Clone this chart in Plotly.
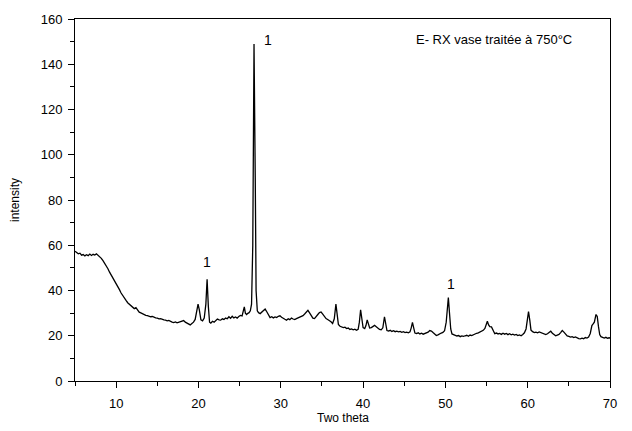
import plotly.graph_objects as go

# XRD pattern (two theta, intensity)
two_theta = [
    5.0, 5.2, 5.4, 5.6, 5.8, 6.0, 6.2, 6.4, 6.6, 6.8, 7.0, 7.2, 7.4, 7.6, 7.8, 8.0, 8.2, 8.4,
    8.6, 8.8, 9.0, 9.2, 9.4, 9.6, 9.8, 10.0, 10.2, 10.4, 10.6, 10.8, 11.0, 11.2, 11.4, 11.6,
    11.8, 12.0, 12.2, 12.4, 12.6, 12.8, 13.0, 13.2, 13.4, 13.6, 13.8, 14.0, 14.2, 14.4, 14.6,
    14.8, 15.0, 15.2, 15.4, 15.6, 15.8, 16.0, 16.2, 16.4, 16.6, 16.8, 17.0, 17.2, 17.4, 17.6,
    17.8, 18.0, 18.2, 18.4, 18.6, 18.8, 19.0, 19.2, 19.4, 19.6, 19.8, 19.95, 20.1, 20.3, 20.5,
    20.7, 20.9, 21.05, 21.2, 21.35, 21.5, 21.7, 21.9, 22.1, 22.3, 22.5, 22.7, 22.9, 23.1, 23.3,
    23.5, 23.7, 23.9, 24.1, 24.3, 24.5, 24.7, 24.9, 25.1, 25.3, 25.45, 25.57, 25.7, 25.85, 26.0,
    26.15, 26.3, 26.45, 26.6, 26.75, 26.9, 27.0, 27.15, 27.3, 27.5, 27.7, 27.9, 28.1, 28.3,
    28.5, 28.7, 28.9, 29.1, 29.3, 29.5, 29.7, 29.9, 30.1, 30.3, 30.5, 30.7, 30.9, 31.1, 31.3,
    31.5, 31.7, 31.9, 32.1, 32.3, 32.5, 32.7, 32.9, 33.1, 33.3, 33.5, 33.7, 33.9, 34.1, 34.3,
    34.5, 34.7, 34.9, 35.1, 35.3, 35.5, 35.7, 35.9, 36.1, 36.3, 36.5, 36.7, 36.85, 37.0, 37.2,
    37.4, 37.6, 37.8, 38.0, 38.2, 38.4, 38.6, 38.8, 39.0, 39.2, 39.4, 39.55, 39.7, 39.85, 40.0,
    40.2, 40.35, 40.5, 40.65, 40.8, 41.0, 41.2, 41.4, 41.6, 41.8, 42.0, 42.2, 42.4, 42.6, 42.75,
    42.9, 43.1, 43.3, 43.5, 43.7, 43.9, 44.1, 44.3, 44.5, 44.7, 44.9, 45.1, 45.3, 45.5, 45.7,
    45.85, 46.0, 46.15, 46.3, 46.5, 46.7, 46.9, 47.1, 47.3, 47.5, 47.7, 47.9, 48.1, 48.3, 48.5,
    48.7, 48.9, 49.1, 49.3, 49.5, 49.7, 49.9, 50.1, 50.25, 50.36, 50.5, 50.65, 50.8, 51.0, 51.2,
    51.4, 51.6, 51.8, 52.0, 52.2, 52.4, 52.6, 52.8, 53.0, 53.2, 53.4, 53.6, 53.8, 54.0, 54.2,
    54.4, 54.6, 54.8, 55.0, 55.1, 55.25, 55.4, 55.6, 55.8, 56.0, 56.2, 56.4, 56.6, 56.8, 57.0,
    57.2, 57.4, 57.6, 57.8, 58.0, 58.2, 58.4, 58.6, 58.8, 59.0, 59.2, 59.4, 59.6, 59.8, 59.95,
    60.1, 60.25, 60.4, 60.6, 60.8, 61.0, 61.2, 61.4, 61.6, 61.8, 62.0, 62.2, 62.4, 62.6, 62.8,
    63.0, 63.2, 63.4, 63.6, 63.8, 64.0, 64.2, 64.4, 64.6, 64.8, 65.0, 65.2, 65.4, 65.6, 65.8,
    66.0, 66.2, 66.4, 66.6, 66.8, 67.0, 67.2, 67.4, 67.6, 67.8, 67.95, 68.1, 68.3, 68.45, 68.6,
    68.75, 68.9, 69.1, 69.3, 69.5, 69.7, 69.9, 70.0,
]
intensity = [
    57.4, 56.8, 56.2, 56.5, 55.6, 55.9, 55.3, 55.8, 55.4, 56.1, 55.5, 56.0, 55.7, 56.2, 55.6, 55.0, 54.2, 53.2,
    52.1, 50.8, 49.6, 48.1, 46.9, 45.6, 44.5, 43.1, 41.6, 40.4, 38.9, 37.6, 36.4, 35.6, 34.6, 33.9,
    33.1, 32.6, 32.0, 32.4, 31.1, 30.4, 30.1, 29.7, 29.5, 29.0, 28.9, 28.6, 28.4, 28.5, 28.0,
    27.9, 27.8, 27.5, 27.6, 27.2, 27.0, 26.9, 26.6, 26.8, 26.2, 26.0, 25.8, 26.1, 25.7, 25.9,
    26.3, 26.2, 26.7, 26.0, 25.5, 25.0, 24.8, 25.4, 26.0, 27.2, 31.0, 34.0, 31.5, 27.0, 26.6,
    27.8, 34.0, 45.0, 33.0, 26.0, 25.6, 26.4, 26.0, 26.8, 27.4, 27.0, 26.9, 27.5, 27.2, 27.8,
    27.5, 28.4, 27.7, 28.6, 27.9, 28.3, 27.8, 28.5, 29.0, 28.8, 31.0, 32.8, 30.0, 29.4, 29.9,
    30.2, 31.0, 34.0, 60.0, 149.0, 90.0, 40.0, 31.0, 30.2, 29.8, 30.4, 30.9, 31.8, 30.6,
    29.0, 28.0, 28.4, 27.9, 28.3, 28.1, 28.6, 28.8, 28.2, 27.6, 27.3, 26.9, 27.5, 27.1, 27.8,
    27.4, 27.2, 27.6, 27.9, 28.1, 28.4, 28.9, 29.6, 30.4, 31.2, 30.1, 28.9, 27.8, 27.6, 28.7,
    29.4, 30.2, 30.5, 29.6, 28.4, 27.6, 27.2, 26.8, 26.2, 25.4, 27.5, 34.0, 30.0, 25.0, 24.2,
    23.9, 23.6, 23.8, 23.2, 23.4, 22.8, 23.0, 22.6, 22.9, 22.4, 22.8, 26.0, 31.5, 27.0, 23.6,
    23.2, 24.5, 27.0, 25.0, 23.4, 23.6, 24.3, 24.6, 24.0, 23.2, 22.8, 22.6, 23.5, 28.4, 25.5,
    22.3, 22.1, 22.4, 21.9, 22.2, 21.8, 22.0, 21.7, 21.9, 21.5, 21.8, 21.4, 21.6, 21.3, 21.7,
    23.5, 25.9, 23.5, 21.2, 21.0, 21.3, 20.8, 21.1, 20.7, 21.0, 21.2, 21.6, 22.3, 22.1, 21.4,
    20.6, 20.1, 20.4, 20.9, 21.2, 21.5, 22.2, 26.0, 32.5, 36.9, 30.0, 23.0, 20.8, 20.6, 20.2,
    19.9, 20.1, 19.6, 19.9, 19.7, 20.0, 20.2, 19.8, 20.3, 20.1, 20.5, 20.7, 21.1, 21.3, 21.6,
    22.0, 22.4, 23.2, 25.4, 26.4, 24.8, 24.0, 23.9, 22.0, 20.9, 21.2, 20.8, 21.0, 20.6, 21.1,
    20.7, 21.0, 20.5, 20.9, 20.4, 20.7, 20.3, 20.6, 20.1, 20.4, 20.0, 20.6, 21.3, 23.0, 27.0,
    30.7, 27.0, 22.5, 21.8, 21.4, 21.6, 21.3, 21.7, 21.4, 21.1, 20.8, 20.5, 20.9, 21.4, 22.0,
    21.1, 20.4, 20.0, 20.3, 20.6, 21.4, 22.3, 21.6, 20.5, 19.9, 19.7, 19.4, 19.6, 19.2, 19.5,
    19.0, 18.7, 18.6, 18.9, 18.7, 19.2, 19.0, 19.4, 21.0, 24.5, 25.2, 26.0, 29.4, 28.5, 24.0,
    20.5, 19.6, 19.4, 19.0, 19.3, 18.9, 19.1, 19.0,
]

peak_x = [28.5, 21.08, 50.7]
peak_y = [150.5, 52.5, 43.0]
peak_labels = ["1", "1", "1"]

title_text = "E- RX vase traitée à 750°C"
x_title = "Two theta"
y_title = "intensity"

font = "Liberation Sans, Arial, sans-serif"

fig = go.Figure()
fig.add_trace(go.Scatter(
    x=two_theta, y=intensity, mode="lines",
    line=dict(color="black", width=1.3), showlegend=False,
))

for px, py, lab in zip(peak_x, peak_y, peak_labels):
    fig.add_annotation(x=px, y=py, text=lab, showarrow=False,
                       font=dict(family=font, size=14, color="black"))

fig.add_annotation(x=55.9, y=150.8, text=title_text, showarrow=False,
                   font=dict(family=font, size=13, color="black"))

fig.add_annotation(xref="paper", yref="paper", x=0.5, y=0, yshift=-37,
                   text=x_title, showarrow=False, yanchor="middle",
                   font=dict(family=font, size=12, color="black"))
fig.add_annotation(xref="paper", yref="paper", x=0, y=0.5, xshift=-60,
                   text=y_title, showarrow=False, textangle=-90, xanchor="center",
                   font=dict(family=font, size=12, color="black"))

axis_common = dict(
    showgrid=False, zeroline=False, showline=True, linecolor="black", linewidth=1,
    mirror=True, ticks="outside", ticklen=6, tickwidth=1, tickcolor="black",
    tickfont=dict(family=font, size=13, color="black"),
)

fig.update_xaxes(range=[5, 70], tick0=0, dtick=10, ticklabelstandoff=4,
                 minor=dict(ticks="outside", dtick=5, tick0=0, ticklen=4,
                            tickcolor="black", showgrid=False),
                 **axis_common)
fig.update_yaxes(range=[0, 160], tick0=0, dtick=20, ticklabelstandoff=3,
                 minor=dict(ticks="outside", dtick=10, tick0=0, ticklen=4,
                            tickcolor="black", showgrid=False),
                 **axis_common)

fig.update_layout(
    width=632, height=431,
    margin=dict(l=75, r=22, t=15, b=50),
    plot_bgcolor="white", paper_bgcolor="white",
    font=dict(family=font, color="black"),
)

# remove the browser's default 8px body margin so the figure fills the window exactly
fig.write_html("out.html", config={"displayModeBar": False},
               post_script="document.body.style.margin='0px';")
